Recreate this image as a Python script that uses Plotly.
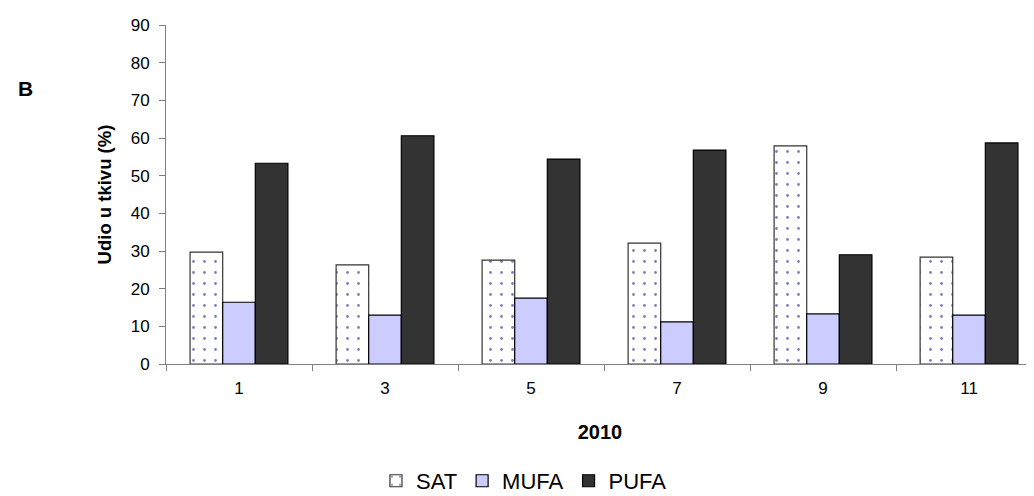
import plotly.graph_objects as go

categories = ["1", "3", "5", "7", "9", "11"]
sat = [29.7, 26.3, 27.6, 32.1, 57.9, 28.4]
mufa = [16.4, 13.0, 17.5, 11.2, 13.3, 13.0]
pufa = [53.3, 60.6, 54.4, 56.8, 29.0, 58.7]

FONT = "Liberation Sans, Arial, sans-serif"

fig = go.Figure()
fig.add_trace(go.Bar(
    x=categories, y=sat, name="SAT",
    marker=dict(color="white", line=dict(color="#333333", width=1.2),
                pattern=dict(shape=".", fgcolor="#000080", bgcolor="white",
                             size=11, solidity=0.05, fillmode="overlay")),
))
fig.add_trace(go.Bar(
    x=categories, y=mufa, name="MUFA",
    marker=dict(color="#CCCCFF", line=dict(color="#000000", width=1.2)),
))
fig.add_trace(go.Bar(
    x=categories, y=pufa, name="PUFA",
    marker=dict(color="#333333", line=dict(color="#000000", width=1.2)),
))

# page has an 8px body margin, so the figure is sized/shifted to compensate
fig.update_layout(
    width=1026, height=488,
    margin=dict(l=158, r=0, t=17, b=132, autoexpand=False),
    paper_bgcolor="white", plot_bgcolor="white",
    barmode="group", bargap=0.33, bargroupgap=0,
    font=dict(family=FONT, color="black", size=17),
    showlegend=True,
    legend=dict(orientation="h", x=0.4124, xanchor="center", y=-0.345, yanchor="middle",
                font=dict(size=22, family=FONT), itemwidth=30,
                traceorder="normal", tracegroupgap=0),
    annotations=[dict(text="<b>B</b>", xref="paper", yref="paper",
                      x=-0.1624, y=0.814, xanchor="center", yanchor="middle",
                      showarrow=False, font=dict(size=21, family=FONT))],
)

fig.update_xaxes(
    type="category", range=[-0.5, 5.445], automargin=False,
    showline=True, linecolor="#808080", linewidth=1,
    ticks="outside", ticklen=6, tickcolor="#808080",
    tickson="boundaries", showgrid=False,
    tickfont=dict(size=17, family=FONT), ticklabelstandoff=9,
    title=dict(text="<b>2010</b>", font=dict(size=20, family=FONT), standoff=27),
)
fig.update_yaxes(
    range=[0, 90], dtick=10, automargin=False,
    showline=True, linecolor="#808080", linewidth=1,
    ticks="outside", ticklen=6, tickcolor="#808080",
    showgrid=False, zeroline=False,
    tickfont=dict(size=17, family=FONT), ticklabelstandoff=6,
    title=dict(text="<b>Udio u tkivu (%)</b>", font=dict(size=18.5, family=FONT), standoff=14),
)

fig.write_html("out.html")
